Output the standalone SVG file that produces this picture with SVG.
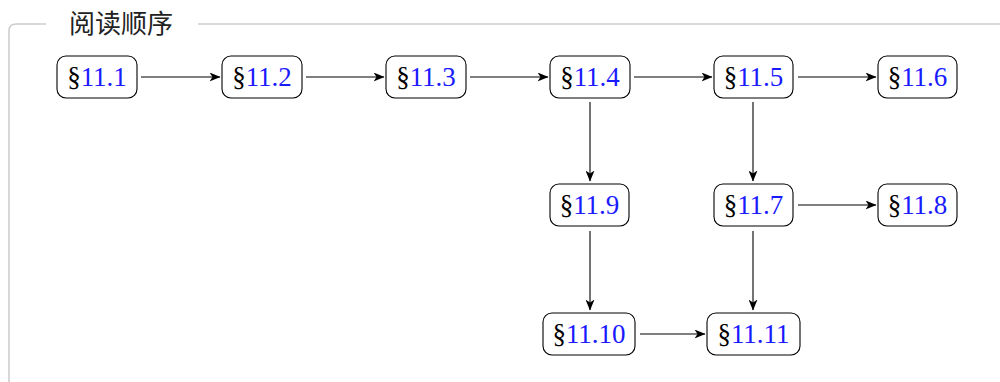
<svg xmlns="http://www.w3.org/2000/svg" width="1000" height="382" viewBox="0 0 1000 382">
<style>
.frame{fill:none;stroke:#cccccc;stroke-width:1.5}
.legend{font-family:"Noto Sans CJK SC","Noto Sans",sans-serif;font-size:26px;fill:#222}
.box{fill:#fff;stroke:#000;stroke-width:1.1}
.lbl{font-family:"Liberation Serif","DejaVu Serif",serif;font-size:27px;fill:#000;text-anchor:middle}
.num{fill:#1a1aff}
.edge{stroke:#000;stroke-width:1.1;fill:none;marker-end:url(#arr)}
</style>
<defs>
<marker id="arr" viewBox="0 0 11 9" refX="10.5" refY="4.5" markerWidth="11" markerHeight="9" markerUnits="userSpaceOnUse" orient="auto">
<path d="M0,0 L11,4.5 L0,9 L3,4.5 Z" fill="#000"/>
</marker>
</defs>
<path class="frame" d="M46,24 L16,24 Q9,24 9,31 L9,390"/>
<path class="frame" d="M198,24 L1010,24"/>
<text class="legend" x="69" y="33">阅读顺序</text>
<g id="connectors">
<line class="edge" x1="141" y1="77" x2="220" y2="77"/>
<line class="edge" x1="306" y1="77" x2="384" y2="77"/>
<line class="edge" x1="470" y1="77" x2="548" y2="77"/>
<line class="edge" x1="634" y1="77" x2="712" y2="77"/>
<line class="edge" x1="798" y1="77" x2="876" y2="77"/>
<line class="edge" x1="590" y1="102" x2="590" y2="181"/>
<line class="edge" x1="753" y1="102" x2="753" y2="181"/>
<line class="edge" x1="798" y1="205" x2="876" y2="205"/>
<line class="edge" x1="590" y1="231" x2="590" y2="310"/>
<line class="edge" x1="753" y1="231" x2="753" y2="310"/>
<line class="edge" x1="640" y1="334" x2="705" y2="334"/>
</g>
<g id="n11_1"><rect class="box" x="57" y="56" width="80" height="42" rx="9"/><text class="lbl" x="97" y="86">§<tspan class="num">11.1</tspan></text></g>
<g id="n11_2"><rect class="box" x="222" y="56" width="80" height="42" rx="9"/><text class="lbl" x="262" y="86">§<tspan class="num">11.2</tspan></text></g>
<g id="n11_3"><rect class="box" x="386" y="56" width="80" height="42" rx="9"/><text class="lbl" x="426" y="86">§<tspan class="num">11.3</tspan></text></g>
<g id="n11_4"><rect class="box" x="550" y="56" width="80" height="42" rx="9"/><text class="lbl" x="590" y="86">§<tspan class="num">11.4</tspan></text></g>
<g id="n11_5"><rect class="box" x="714" y="56" width="79" height="42" rx="9"/><text class="lbl" x="753.5" y="86">§<tspan class="num">11.5</tspan></text></g>
<g id="n11_6"><rect class="box" x="878" y="56" width="79" height="42" rx="9"/><text class="lbl" x="917.5" y="86">§<tspan class="num">11.6</tspan></text></g>
<g id="n11_9"><rect class="box" x="550" y="184" width="79" height="42" rx="9"/><text class="lbl" x="589.5" y="214">§<tspan class="num">11.9</tspan></text></g>
<g id="n11_7"><rect class="box" x="714" y="184" width="79" height="42" rx="9"/><text class="lbl" x="753.5" y="214">§<tspan class="num">11.7</tspan></text></g>
<g id="n11_8"><rect class="box" x="878" y="184" width="79" height="42" rx="9"/><text class="lbl" x="917.5" y="214">§<tspan class="num">11.8</tspan></text></g>
<g id="n11_10"><rect class="box" x="543" y="313" width="92" height="42" rx="9"/><text class="lbl" x="589" y="343">§<tspan class="num">11.10</tspan></text></g>
<g id="n11_11"><rect class="box" x="707" y="313" width="93" height="42" rx="9"/><text class="lbl" x="753.5" y="343">§<tspan class="num">11.11</tspan></text></g>
</svg>
